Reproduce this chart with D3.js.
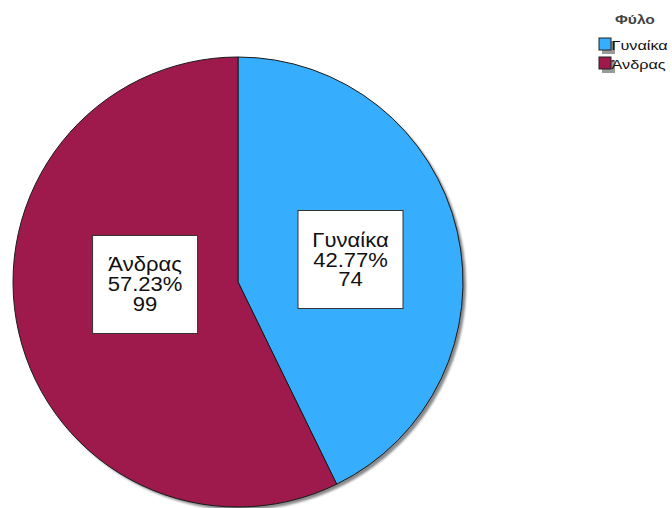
<!DOCTYPE html>
<html>
<head>
<meta charset="utf-8">
<script src="https://cdn.jsdelivr.net/npm/d3@7"></script>
<style>
  html, body { margin: 0; padding: 0; background: #fff; }
  svg { display: block; }
</style>
</head>
<body>
<svg id="chart" width="672" height="508"></svg>
<script>
// Gender split (Φύλο)
const categories = ["Γυναίκα", "Άνδρας"];
const counts = [74, 99];
const percents = [42.77, 57.23];
const colors = ["#36adfd", "#9e1a4c"];
const legendTitle = "Φύλο";

const svg = d3.select("#chart");
const cx = 238, cy = 282, r = 225;
const font = "Liberation Sans, Arial, sans-serif";

const defs = svg.append("defs");
defs.append("filter").attr("id", "soft")
  .append("feGaussianBlur").attr("stdDeviation", 1.2);

const data = categories.map((c, i) => ({ name: c, count: counts[i], pct: percents[i], color: colors[i] }));

const pie = d3.pie().sort(null).value(d => d.count).startAngle(0).endAngle(2 * Math.PI);
const arc = d3.arc().innerRadius(0).outerRadius(r);
const arcs = pie(data);

const g = svg.append("g").attr("transform", `translate(${cx},${cy})`);

// drop shadow under the pie
g.append("circle")
  .attr("cx", 3).attr("cy", 3).attr("r", r)
  .attr("fill", "#8a8a8a")
  .attr("filter", "url(#soft)");

g.selectAll("path.slice")
  .data(arcs)
  .join("path")
  .attr("class", "slice")
  .attr("d", arc)
  .attr("fill", d => d.data.color)
  .attr("stroke", "#1a1a1a")
  .attr("stroke-width", 1);

// label boxes: placement relative to the pie radius
const labelPos = [[0.5, -0.1], [-0.413, 0.011]];
const boxW = 105, boxH = 98, lineH = 20;

const labels = g.selectAll("g.label")
  .data(arcs)
  .join("g")
  .attr("class", "label")
  .attr("transform", (d, i) => `translate(${labelPos[i][0] * r},${labelPos[i][1] * r})`);

labels.append("rect")
  .attr("x", -boxW / 2).attr("y", -boxH / 2)
  .attr("width", boxW).attr("height", boxH)
  .attr("fill", "#fff")
  .attr("stroke", "#333")
  .attr("stroke-width", 1);

labels.each(function(d) {
  const lines = [d.data.name, d.data.pct.toFixed(2) + "%", String(d.data.count)];
  const t = d3.select(this).append("text")
    .attr("transform", "scale(1.13,1)")
    .attr("text-anchor", "middle")
    .attr("font-family", font)
    .attr("font-size", "19.5px")
    .attr("fill", "#111");
  lines.forEach((s, k) => {
    t.append("tspan").attr("x", 0).attr("y", -13 + k * lineH).text(s);
  });
});

// legend
const lg = svg.append("g").attr("transform", "translate(599,0)");
lg.append("text")
  .attr("transform", "translate(16,24) scale(1.25,1)")
  .attr("font-family", font)
  .attr("font-size", "12.5px")
  .attr("font-weight", "bold")
  .attr("fill", "#444")
  .text(legendTitle);

const item = lg.selectAll("g.item")
  .data(data)
  .join("g")
  .attr("class", "item")
  .attr("transform", (d, i) => `translate(0,${38 + i * 19})`);

item.append("rect")
  .attr("x", 3).attr("y", 3).attr("width", 13).attr("height", 13)
  .attr("fill", "#9a9a9a");
item.append("rect")
  .attr("x", 0).attr("y", 0).attr("width", 12).attr("height", 12)
  .attr("fill", d => d.color)
  .attr("stroke", "#222").attr("stroke-width", 1);
item.append("text")
  .attr("transform", "translate(12.5,12) scale(1.3,1)")
  .attr("font-family", font)
  .attr("font-size", "12.5px")
  .attr("fill", "#111")
  .text(d => d.name);
</script>
</body>
</html>
